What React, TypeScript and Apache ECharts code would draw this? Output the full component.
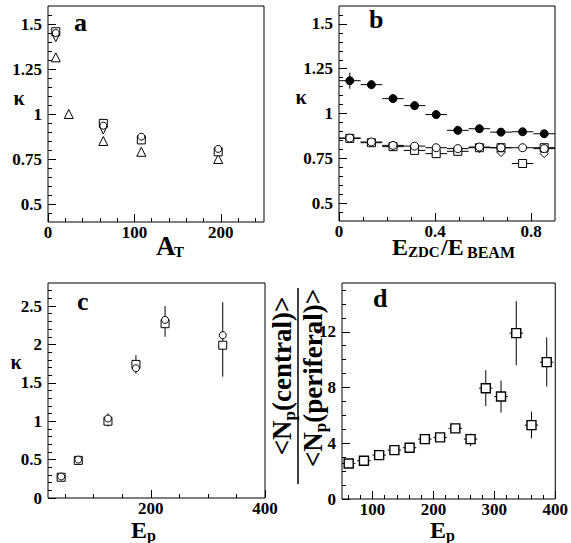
import React, { useEffect, useRef } from "react";
import * as echarts from "echarts";

const SERIF = "Liberation Serif, DejaVu Serif, serif";

// ---- Panel a: kappa vs A_T ----
const aSquareX = [9, 64, 108, 197];
const aSquare = [1.457, 0.948, 0.856, 0.79];
const aCircleX = [9, 64, 108, 197];
const aCircle = [1.45, 0.935, 0.874, 0.806];
const aInvTriX = [9, 64];
const aInvTri = [1.424, 0.911];
const aTriX = [9, 24, 64, 108, 197];
const aTri = [1.315, 1.0, 0.85, 0.79, 0.75];

// ---- Panel b: kappa vs E_ZDC/E_BEAM ----
const bE = [0.045, 0.135, 0.225, 0.315, 0.405, 0.495, 0.585, 0.675, 0.765, 0.855];
const bHalfBin = 0.045;
const bFilled = [1.183, 1.161, 1.083, 1.044, 0.994, 0.906, 0.915, 0.896, 0.898, 0.887];
const bFilledErr = [0.045, 0.012, 0.012, 0.012, 0.012, 0.015, 0.02, 0.02, 0.02, 0.02];
const bCircle = [0.863, 0.841, 0.822, 0.818, 0.809, 0.804, 0.813, 0.809, 0.809, 0.804];
const bSquare = [0.861, 0.837, 0.815, 0.794, 0.776, 0.789, 0.809, 0.809, 0.721, 0.809];
const bDiamond = [null, null, 0.815, null, null, 0.789, 0.804, 0.782, null, 0.776];

// ---- Panel c: kappa vs E_p ----
const cE = [43, 73, 125, 174, 225, 326];
const cSquare = [0.27, 0.49, 1.0, 1.74, 2.27, 1.99];
const cCircle = [0.28, 0.5, 1.035, 1.69, 2.32, 2.12];
const cLow = [0.24, 0.46, 0.93, 1.62, 2.1, 1.58];
const cHigh = [0.31, 0.53, 1.1, 1.86, 2.5, 2.55];

// ---- Panel d: <Np(central)>/<Np(periferal)> vs E_p ----
const dE = [61, 86, 111, 136, 161, 186, 211, 236, 261, 286, 311, 336, 361, 386];
const dHalfBin = 11;
const dVal = [2.55, 2.74, 3.15, 3.51, 3.68, 4.3, 4.42, 5.07, 4.3, 7.95, 7.35, 11.9, 5.3, 9.82];
const dLow = [2.4, 2.6, 3.0, 3.35, 3.5, 4.1, 4.2, 4.8, 3.8, 6.67, 6.2, 9.6, 4.35, 8.07];
const dHigh = [2.7, 2.9, 3.3, 3.65, 3.85, 4.5, 4.65, 5.35, 4.7, 9.24, 8.5, 14.2, 6.27, 11.6];

// tick definitions
const aXLabels = [0, 100, 200];
const aXMinor = [20, 40, 60, 80, 120, 140, 160, 180, 220, 240];
const kYLabels = [0.5, 0.75, 1, 1.25, 1.5];
const kYMinor = [0.45, 0.55, 0.6, 0.65, 0.7, 0.8, 0.85, 0.9, 0.95, 1.05, 1.1, 1.15, 1.2, 1.3, 1.35, 1.4, 1.45, 1.55];
const bXLabels = [0, 0.4, 0.8];
const bXMinor = [0.1, 0.2, 0.3, 0.5, 0.6, 0.7];
const cXLabels = [200, 400];
const cXMinor = [50, 100, 150, 250, 300, 350];
const cYLabels = [0, 0.5, 1, 1.5, 2, 2.5];
const cYMinor = [0.1, 0.2, 0.3, 0.4, 0.6, 0.7, 0.8, 0.9, 1.1, 1.2, 1.3, 1.4, 1.6, 1.7, 1.8, 1.9, 2.1, 2.2, 2.3, 2.4, 2.6, 2.7];
const dXLabels = [100, 200, 300, 400];
const dXMinor = [60, 80, 120, 140, 160, 180, 220, 240, 260, 280, 320, 340, 360, 380];
const dYLabels = [0, 4, 8, 12];
const dYMinor = [1, 2, 3, 5, 6, 7, 9, 10, 11, 13, 14, 15];

function axisPair(grid: number, min: number, max: number, labels: number[], minor: number[], position: string) {
  const major: any = {
    type: "value",
    gridIndex: grid,
    min,
    max,
    position,
    axisLine: { show: false, onZero: false },
    splitLine: { show: false },
    axisTick: { show: true, inside: true, length: 8, customValues: labels, lineStyle: { color: "#000", width: 1 } },
    axisLabel: {
      show: true,
      customValues: labels,
      color: "#000",
      fontFamily: SERIF,
      fontWeight: "bold",
      fontSize: 17,
      margin: 6,
    },
  };
  const min2: any = {
    type: "value",
    gridIndex: grid,
    min,
    max,
    position,
    axisLine: { show: false, onZero: false },
    splitLine: { show: false },
    axisTick: { show: true, inside: true, length: 4, customValues: minor, lineStyle: { color: "#000", width: 1 } },
    axisLabel: { show: false },
  };
  return [major, min2];
}

function errSeries(k: number, rows: any[]) {
  return {
    type: "custom",
    xAxisIndex: 2 * k,
    yAxisIndex: 2 * k,
    z: 2,
    silent: true,
    data: rows,
    encode: { x: 0, y: 1 },
    renderItem: (params: any, api: any) => {
      const x = api.value(0);
      const y = api.value(1);
      const p = api.coord([x, y]);
      const xl = api.coord([api.value(2), y]);
      const xh = api.coord([api.value(3), y]);
      const yl = api.coord([x, api.value(4)]);
      const yh = api.coord([x, api.value(5)]);
      const st = { stroke: "#000", lineWidth: 1 };
      return {
        type: "group",
        children: [
          { type: "line", shape: { x1: xl[0], y1: p[1], x2: xh[0], y2: p[1] }, style: st },
          { type: "line", shape: { x1: p[0], y1: yl[1], x2: p[0], y2: yh[1] }, style: st },
        ],
      };
    },
  };
}

function scat(k: number, xs: number[], ys: (number | null)[], symbol: string, size: number, filled = false, rotate = 0, bw = 1) {
  const data: any[] = [];
  xs.forEach((x, i) => {
    if (ys[i] !== null && ys[i] !== undefined) data.push([x, ys[i]]);
  });
  return {
    type: "scatter",
    xAxisIndex: 2 * k,
    yAxisIndex: 2 * k,
    symbol,
    symbolSize: size,
    symbolRotate: rotate,
    z: 3,
    data,
    itemStyle: { color: filled ? "#000" : "#fff", borderColor: "#000", borderWidth: bw, opacity: 1 },
  };
}

function txt(x: number, y: number, text: string, size: number, align = "left", weight = "bold") {
  return {
    type: "text",
    x,
    y,
    z: 10,
    style: {
      text,
      fill: "#000",
      fontFamily: SERIF,
      fontWeight: weight,
      fontSize: size,
      align,
      verticalAlign: "middle",
    },
  };
}

function fracText(x: number, y: number, word: string) {
  return {
    type: "text",
    x,
    y,
    rotation: Math.PI / 2,
    z: 10,
    style: {
      text: `{m|<N}{s|p}{m|(${word})>}`,
      fill: "#000",
      align: "center",
      verticalAlign: "middle",
      rich: {
        m: { fontSize: 27, fontWeight: "bold", fontFamily: SERIF, lineHeight: 27, verticalAlign: "top", fill: "#000" },
        s: { fontSize: 17, fontWeight: "bold", fontFamily: SERIF, lineHeight: 17, padding: [12, 0, 0, 0], verticalAlign: "top", fill: "#000" },
      },
    },
  };
}

export default function App() {
  const ref = useRef<HTMLDivElement>(null);
  useEffect(() => {
    if (!ref.current) return;
    const chart = echarts.init(ref.current, null, { renderer: "svg" });

    const grids = [
      { left: 48, top: 6, width: 216, height: 216 },
      { left: 339, top: 6, width: 216, height: 215 },
      { left: 48, top: 283, width: 217, height: 215 },
      { left: 342, top: 283, width: 216, height: 216 },
    ].map((g) => ({ ...g, show: true, borderColor: "#000", borderWidth: 1, backgroundColor: "transparent" }));

    const xAxis = [
      ...axisPair(0, 0, 250, aXLabels, aXMinor, "bottom"),
      ...axisPair(1, 0, 0.9, bXLabels, bXMinor, "bottom"),
      ...axisPair(2, 20, 400, cXLabels, cXMinor, "bottom"),
      ...axisPair(3, 50, 400, dXLabels, dXMinor, "bottom"),
    ];
    const yAxis = [
      ...axisPair(0, 0.4, 1.6, kYLabels, kYMinor, "left"),
      ...axisPair(1, 0.4, 1.6, kYLabels, kYMinor, "left"),
      ...axisPair(2, 0, 2.8, cYLabels, cYMinor, "left"),
      ...axisPair(3, 0, 15.5, dYLabels, dYMinor, "left"),
    ];
    xAxis.forEach((ax: any) => { if (ax.axisLabel.show) ax.axisLabel.margin = 2; });

    const bFilledRows = bE.map((e, i) => [e, bFilled[i], e - bHalfBin, e + bHalfBin, bFilled[i] - bFilledErr[i], bFilled[i] + bFilledErr[i]]);
    const bCircleRows = bE.map((e, i) => [e, bCircle[i], e - bHalfBin, e + bHalfBin, bCircle[i] - 0.008, bCircle[i] + 0.008]);
    const bSquareRows = bE.map((e, i) => [e, bSquare[i], e - bHalfBin, e + bHalfBin, bSquare[i] - 0.008, bSquare[i] + 0.008]);
    const cRows = cE.map((e, i) => [e, cSquare[i], e, e, cLow[i], cHigh[i]]);
    const dRows = dE.map((e, i) => [e, dVal[i], e - dHalfBin, e + dHalfBin, dLow[i], dHigh[i]]);

    const series: any[] = [
      // a
      scat(0, aTriX, aTri, "triangle", 9),
      scat(0, aInvTriX, aInvTri, "triangle", 8, false, 180),
      scat(0, aSquareX, aSquare, "rect", 8),
      scat(0, aCircleX, aCircle, "circle", 7),
      // b
      errSeries(1, bCircleRows),
      errSeries(1, bSquareRows),
      errSeries(1, bFilledRows),
      scat(1, bE, bDiamond, "diamond", 8),
      scat(1, bE, bSquare, "rect", 8),
      scat(1, bE, bCircle, "circle", 8),
      scat(1, bE, bFilled, "circle", 8, true),
      // c
      errSeries(2, cRows),
      scat(2, cE, cSquare, "rect", 8),
      scat(2, cE, cCircle, "circle", 7),
      // d
      errSeries(3, dRows),
      scat(3, dE, dVal, "rect", 9, false, 0, 1.4),
    ];

    const graphic: any[] = [
      txt(74, 22, "a", 26),
      txt(369, 19, "b", 26),
      txt(77, 301, "c", 26),
      txt(373, 298, "d", 26),
      txt(19, 98, "κ", 20, "center"),
      txt(301, 97, "κ", 20, "center"),
      txt(16, 362, "κ", 20, "center"),
      // x titles
      txt(156, 246, "A", 27),
      txt(174, 252, "T", 15),
      txt(392, 247, "E", 24),
      txt(408, 252, "ZDC", 15),
      txt(441, 247, "/E", 24),
      txt(467, 252, "BEAM", 16),
      txt(131, 530, "E", 24),
      txt(147, 535, "p", 16),
      txt(430, 530, "E", 24),
      txt(446, 535, "p", 16),
      // fraction label
      fracText(282, 376, "central"),
      fracText(313, 378, "periferal"),
      {
        type: "line",
        z: 10,
        shape: { x1: 298, y1: 288, x2: 298, y2: 484 },
        style: { stroke: "#000", lineWidth: 1.5 },
      },
    ];

    chart.setOption({
      animation: false,
      backgroundColor: "#fff",
      grid: grids,
      xAxis,
      yAxis,
      series,
      graphic,
    });
    return () => chart.dispose();
  }, []);
  return <div ref={ref} style={{ position: "fixed", left: 0, top: 0, width: 571, height: 543 }} />;
}
